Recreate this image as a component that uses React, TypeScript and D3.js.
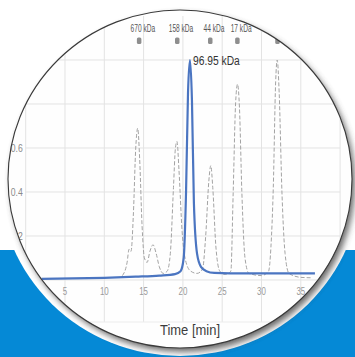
import * as d3 from 'd3';
import { type FC } from 'react';

// Sample trace (blue): time [min] / absorbance
const sampleTimes = [2.0, 6.0, 10.0, 14.0, 17.0, 19.0, 19.7, 20.1, 20.4, 20.65, 20.9, 21.15, 21.4, 21.8, 22.3, 23.0, 24.0, 26.0, 30.0, 34.0, 36.8];
const sampleValues = [0.005, 0.007, 0.01, 0.015, 0.02, 0.027, 0.04, 0.1, 0.4, 0.85, 1.0, 0.82, 0.35, 0.12, 0.06, 0.04, 0.032, 0.03, 0.03, 0.03, 0.03];

// Calibration standards (grey dashed)
const standardTimes = [12.3, 12.9, 13.15, 13.4, 13.7, 14.0, 14.25, 14.5, 14.8, 15.1, 15.45, 15.8, 16.2, 16.6, 17.0, 17.5, 18.0, 18.4, 18.8, 19.05, 19.25, 19.5, 19.9, 20.4, 21.0, 21.8, 22.5, 22.9, 23.3, 23.55, 23.8, 24.2, 24.7, 25.4, 26.1, 26.4, 26.7, 26.95, 27.2, 27.5, 27.9, 28.4, 30.0, 30.9, 31.2, 31.5, 31.8, 32.0, 32.25, 32.6, 33.0, 33.5, 35.0, 36.5];
const standardValues = [0.02, 0.08, 0.14, 0.13, 0.3, 0.6, 0.69, 0.55, 0.25, 0.1, 0.08, 0.13, 0.16, 0.12, 0.06, 0.03, 0.04, 0.12, 0.42, 0.6, 0.63, 0.5, 0.22, 0.08, 0.04, 0.03, 0.05, 0.2, 0.45, 0.52, 0.42, 0.15, 0.04, 0.025, 0.04, 0.4, 0.8, 0.89, 0.78, 0.4, 0.1, 0.03, 0.02, 0.04, 0.15, 0.42, 0.9, 1.0, 0.85, 0.4, 0.12, 0.03, 0.012, 0.01];

const markerTimes = [14.4, 19.25, 23.45, 26.9, 32.0];
const markerLabels = ['670 kDa', '158 kDa', '44 kDa', '17 kDa', '1.35 kDa'];
const peakTime = 20.9;
const peakLabel = '96.95 kDa';

const xTicks = [5, 10, 15, 20, 25, 30, 35];
const xGrid = [0, 5, 10, 15, 20, 25, 30, 35, 40];
const yTicks = [0, 0.2, 0.4, 0.6, 0.8, 1.0];
const xTitle = 'Time [min]';

const W = 355;
const H = 357;
const font = "'Liberation Sans', 'DejaVu Sans Condensed', sans-serif";

const lens = { cx: 180, cy: 179, rx: 172, ry: 169 };

// squeeze text to a Calibri-like narrow width
const narrow = (s: string, perChar: number) => ({
  textLength: s.length * perChar,
  lengthAdjust: 'spacingAndGlyphs' as const,
});

const App: FC = () => {
  const x = d3.scaleLinear().domain([0, 40]).range([25.7, 340.1]);
  const y = d3.scaleLinear().domain([0, 1]).range([280, 60]);

  const line = d3
    .line<[number, number]>()
    .x((d) => x(d[0]))
    .y((d) => y(d[1]))
    .curve(d3.curveMonotoneX);

  const sample = sampleTimes.map((t, i) => [t, sampleValues[i]] as [number, number]);
  const standard = standardTimes.map((t, i) => [t, standardValues[i]] as [number, number]);

  const gridTop = 16;
  const gridBottom = 322;

  return (
    <div style={{ position: 'absolute', left: 0, top: 0 }}>
      <svg width={W} height={H} style={{ display: 'block', background: '#fff' }}>
        <defs>
          <clipPath id="lens">
            <ellipse cx={lens.cx} cy={lens.cy} rx={lens.rx} ry={lens.ry} />
          </clipPath>
          <filter id="blur" x="-20%" y="-20%" width="140%" height="140%">
            <feGaussianBlur stdDeviation={3} />
          </filter>
        </defs>

        {/* blue band behind the lens */}
        <rect x={0} y={250} width={W} height={H - 250} fill="#0589d6" />

        {/* white halo + drop shadow */}
        <ellipse cx={lens.cx} cy={lens.cy} rx={lens.rx + 9} ry={lens.ry + 8} fill="#fff" />
        <ellipse
          cx={lens.cx + 3}
          cy={lens.cy + 4}
          rx={lens.rx}
          ry={lens.ry}
          fill="#444"
          opacity={0.8}
          filter="url(#blur)"
        />
        <ellipse cx={lens.cx} cy={lens.cy} rx={lens.rx} ry={lens.ry} fill="#fefefe" />

        <g clipPath="url(#lens)" fontFamily={font}>
          {/* grid */}
          {xGrid.map((t) => (
            <line key={`vx${t}`} x1={x(t)} x2={x(t)} y1={gridTop} y2={gridBottom} stroke="#e3e3e3" />
          ))}
          {yTicks.map((v) => (
            <line key={`hy${v}`} x1={x(0)} x2={x(40)} y1={y(v)} y2={y(v)} stroke="#e3e3e3" />
          ))}
          <line x1={x(0)} x2={x(40)} y1={gridBottom} y2={gridBottom} stroke="#ececec" />

          {/* y tick labels */}
          {yTicks.map((v) => {
            const s = v === 0 ? '0' : v.toFixed(1);
            return (
              <text key={`yt${v}`} x={x(0) - 3} y={y(v) + 3.5} textAnchor="end" fontSize={10} fill="#8a8a8a" {...narrow(s, 4)}>
                {s}
              </text>
            );
          })}

          {/* x tick labels */}
          {xTicks.map((t) => (
            <text key={`xt${t}`} x={x(t)} y={294.5} textAnchor="middle" fontSize={11} fill="#9a9a9a" {...narrow(String(t), 4.4)}>
              {t}
            </text>
          ))}
          <text x={190} y={335} textAnchor="middle" fontSize={14} fill="#3c3c3c" {...narrow(xTitle, 6)}>
            {xTitle}
          </text>

          {/* standards */}
          <path d={line(standard) ?? ''} fill="none" stroke="#a3a3a3" strokeWidth={1} strokeDasharray="4 2" />
          {/* sample */}
          <path d={line(sample) ?? ''} fill="none" stroke="#4b75c1" strokeWidth={2.2} strokeLinejoin="round" />

          {/* marker ladder */}
          {markerTimes.map((t, i) => (
            <g key={`mk${i}`}>
              <rect x={x(t) - 2} y={37.5} width={4.5} height={6.5} rx={1.5} fill="#8e8e8e" />
              <text
                transform={`translate(${x(t) + 4},31.5) scale(0.6,1)`}
                textAnchor="middle"
                fontSize={11}
                fill="#555"
              >
                {markerLabels[i]}
              </text>
            </g>
          ))}

          <text x={x(peakTime) + 3} y={64.5} fontSize={12.5} fill="#333" {...narrow(peakLabel, 5.2)}>
            {peakLabel}
          </text>
        </g>

        <ellipse cx={lens.cx} cy={lens.cy} rx={lens.rx} ry={lens.ry} fill="none" stroke="#3a3a3a" strokeWidth={1.1} />
      </svg>
    </div>
  );
};

export default App;
